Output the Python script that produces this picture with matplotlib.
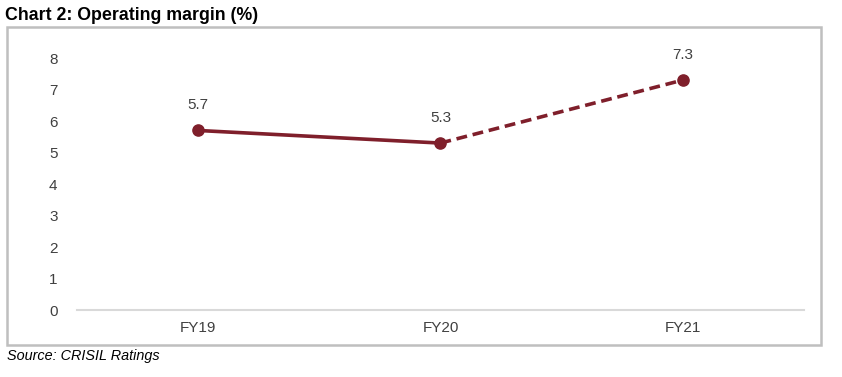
import matplotlib.pyplot as plt
from matplotlib.patches import Rectangle

plt.rcParams['font.family'] = ['Liberation Sans', 'DejaVu Sans']

# Data
years = ['FY19', 'FY20', 'FY21']
margin = [5.7, 5.3, 7.3]
line_color = '#7F1F2B'

fig = plt.figure(figsize=(8.42, 3.77), dpi=100)
ax = fig.add_axes([0.0914, 0.1777, 0.8634, 0.6684])

x = list(range(len(years)))
# actual part solid, projection dashed
ax.plot(x[:2], margin[:2], color=line_color, lw=2.6, solid_capstyle='round')
ax.plot(x[1:], margin[1:], color=line_color, lw=2.6, ls=(0, (3, 1.6)))
ax.scatter(x, margin, color=line_color, s=65, zorder=3, clip_on=False)

for xi, v in zip(x, margin):
    ax.annotate(f'{v}', (xi, v), xytext=(0, 13), textcoords='offset points',
                ha='center', va='bottom', fontsize=11, color='#404040')

ax.set_xlim(-0.5, 2.5)
ax.set_ylim(0, 8)
ax.set_yticks(range(0, 9))
ax.set_xticks(x)
ax.set_xticklabels(years)
ax.tick_params(axis='both', length=0, labelsize=11, labelcolor='#404040')
ax.tick_params(axis='y', pad=14)
ax.tick_params(axis='x', pad=8)
for s in ['top', 'right', 'left']:
    ax.spines[s].set_visible(False)
ax.spines['bottom'].set_color('#D9D9D9')
ax.spines['bottom'].set_linewidth(1.5)

# outer frame
fig.patches.append(Rectangle((0.0083, 0.085), 0.9667, 0.843, transform=fig.transFigure,
                             fill=False, edgecolor='#BFBFBF', lw=1.8))

fig.text(0.006, 0.96, 'Chart 2: Operating margin (%)', fontsize=12.8, fontweight='bold',
         ha='left', va='center')
fig.text(0.008, 0.057, 'Source: CRISIL Ratings', fontsize=10.4, style='italic',
         ha='left', va='center')

fig.savefig('out.png', dpi=100)
